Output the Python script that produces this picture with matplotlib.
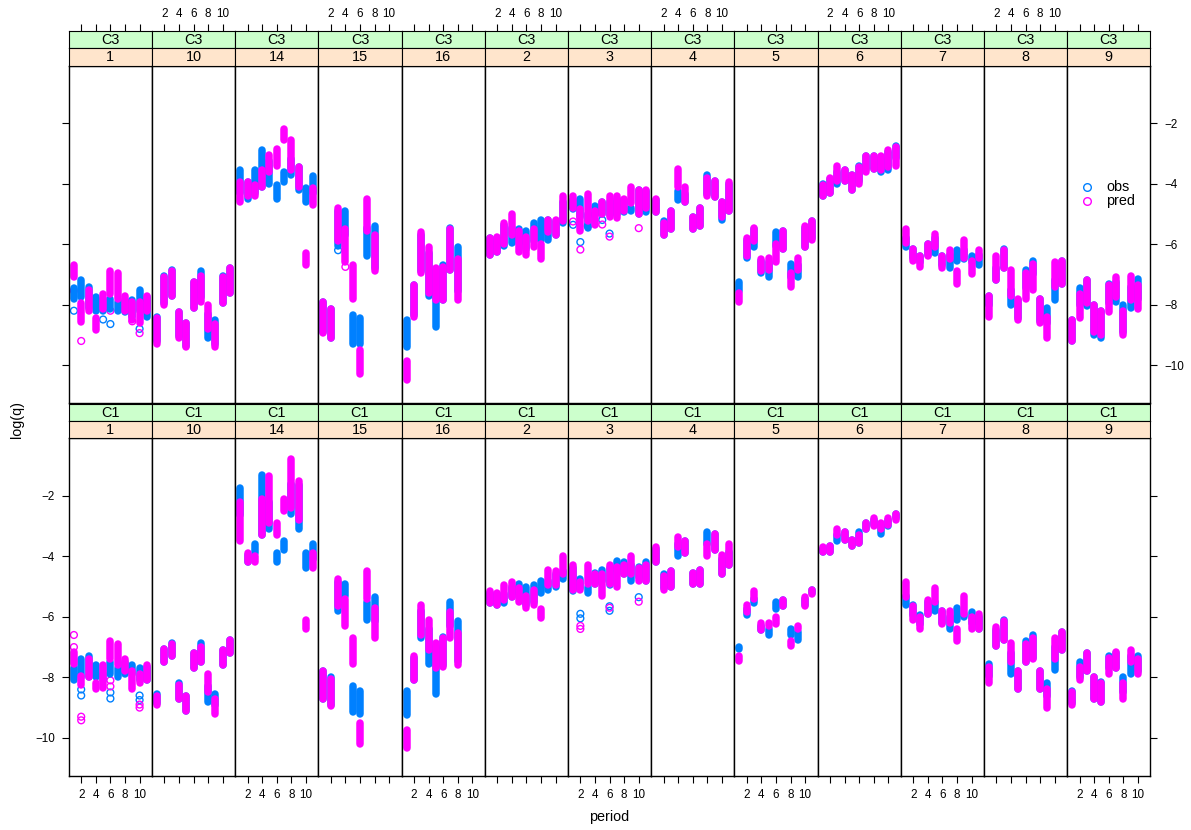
import matplotlib
matplotlib.use("Agg")
import matplotlib.pyplot as plt
from matplotlib.lines import Line2D
import numpy as np

plt.rcParams['font.family'] = ['Liberation Sans', 'DejaVu Sans']

# panel order (strip text) and groups (outer strip)
sites = ["1", "10", "14", "15", "16", "2", "3", "4", "5", "6", "7", "8", "9"]
groups = ["C3", "C1"]

# each entry: (top, bottom) of the cluster of log(q) values for period 1, 2, ...
c3_obs = {
    "1": [(-7.45, -7.8), (-7.2, -7.75), (-7.4, -8.1), (-7.75, -8.2), (-7.8, -8.2), (-7.8, -8.15),
          (-7.9, -8.2), (-7.85, -8.25), (-7.85, -8.4), (-7.5, -8.2), (-7.75, -8.4)],
    "10": [(-8.4, -9.2), (-7.05, -7.95), (-6.85, -7.7), (-8.25, -9.05), (-8.6, -9.35), (-7.25, -8.1),
           (-6.9, -7.75), (-8.3, -9.1), (-8.5, -9.3), (-7.05, -7.95), (-6.8, -7.6)],
    "14": [(-3.55, -4.3), (-3.95, -4.5), (-3.55, -4.3), (-2.9, -4.1), (-3.25, -4.0), (-4.05, -4.5),
           (-3.6, -3.95), (-3.2, -3.7), (-3.45, -4.2), (-4.15, -4.6), (-3.75, -4.3)],
    "15": [(-7.9, -8.9), (-8.15, -9.1), (-4.9, -6.05), (-4.9, -5.7), (-8.35, -9.3), (-8.45, -9.3),
           (-5.45, -6.4), (-5.4, -6.8)],
    "16": [(-8.5, -9.4), (-7.35, -8.35), (-5.7, -6.9), (-6.3, -7.7), (-6.9, -8.75), (-6.7, -7.85),
           (-5.45, -6.85), (-6.1, -7.55)],
    "2": [(-5.8, -6.35), (-5.8, -6.25), (-5.35, -6.05), (-5.45, -5.95), (-5.5, -5.95), (-5.55, -6.15),
          (-5.3, -5.9), (-5.2, -5.85), (-5.2, -5.85), (-5.25, -5.7), (-4.6, -5.3)],
    "3": [(-4.55, -4.85), (-4.5, -5.1), (-5.0, -5.45), (-4.75, -5.05), (-4.6, -5.0), (-4.6, -5.05),
          (-4.5, -5.0), (-4.55, -4.95), (-4.8, -4.9), (-4.2, -5.0), (-4.25, -4.95)],
    "4": [(-4.55, -4.95), (-5.25, -5.7), (-4.9, -5.5), (-4.25, -4.55), (-4.35, -4.6), (-5.1, -5.5),
          (-4.8, -5.4), (-3.7, -4.35), (-3.9, -4.45), (-4.6, -5.2), (-4.0, -4.9)],
    "5": [(-7.25, -7.55), (-5.85, -6.45), (-5.5, -6.1), (-6.55, -6.95), (-6.6, -7.1), (-5.6, -6.05),
          (-5.55, -6.15), (-6.65, -7.1), (-6.7, -7.1), (-5.45, -6.1), (-5.25, -5.8)],
    "6": [(-4.0, -4.4), (-3.85, -4.3), (-3.6, -4.0), (-3.55, -3.9), (-3.7, -4.2), (-3.4, -3.9),
          (-3.1, -3.5), (-3.1, -3.5), (-3.2, -3.6), (-2.95, -3.55), (-2.75, -3.15)],
    "7": [(-5.8, -6.1), (-6.15, -6.45), (-6.4, -6.6), (-6.0, -6.35), (-5.8, -6.3), (-6.4, -6.7),
          (-6.35, -6.8), (-6.2, -6.55), (-6.2, -6.5), (-6.4, -6.6), (-6.35, -6.7)],
    "8": [(-7.7, -8.0), (-6.8, -7.2), (-6.15, -6.8), (-7.5, -8.0), (-7.85, -8.45), (-6.85, -7.45),
          (-6.55, -7.0), (-7.8, -8.55), (-8.1, -8.6), (-7.2, -7.85), (-6.55, -7.3)],
    "9": [(-8.5, -9.2), (-7.45, -8.0), (-7.2, -8.05), (-8.0, -9.0), (-8.2, -9.1), (-7.3, -7.95),
          (-7.25, -7.9), (-8.0, -8.9), (-7.4, -8.1), (-7.15, -7.8)],
}
c3_pred = {
    "1": [(-6.7, -7.1), (-7.93, -8.57), (-7.5, -8.2), (-8.45, -8.85), (-7.65, -8.15), (-6.9, -7.65),
          (-6.95, -7.8), (-7.7, -8.2), (-7.9, -8.5), (-7.9, -8.6), (-7.7, -8.2)],
    "10": [(-8.45, -9.3), (-7.1, -8.0), (-6.9, -7.7), (-8.25, -9.1), (-8.6, -9.4), (-7.25, -8.1),
           (-7.05, -7.9), (-8.0, -8.8), (-8.65, -9.4), (-7.1, -7.95), (-6.8, -7.6)],
    "14": [(-3.95, -4.6), (-3.95, -4.4), (-4.05, -4.4), (-3.55, -4.1), (-3.05, -3.6), (-2.85, -3.4),
           (-2.2, -2.55), (-2.55, -3.55), (-3.45, -4.1), (-6.3, -6.7), (-4.15, -4.7)],
    "15": [(-7.9, -8.95), (-8.15, -9.1), (-4.8, -5.9), (-5.5, -6.6), (-6.7, -7.8), (-9.5, -10.3),
           (-4.5, -5.55), (-5.7, -6.9)],
    "16": [(-9.85, -10.5), (-7.35, -8.4), (-5.6, -6.95), (-6.1, -7.6), (-6.8, -7.85), (-6.75, -7.85),
           (-5.5, -6.85), (-6.5, -7.85)],
    "2": [(-5.8, -6.35), (-5.75, -6.25), (-5.3, -6.0), (-5.0, -5.7), (-5.55, -6.25), (-5.75, -6.35),
          (-5.5, -6.1), (-6.0, -6.5), (-5.2, -5.6), (-5.2, -5.7), (-4.4, -5.25)],
    "3": [(-4.4, -4.8), (-4.85, -5.55), (-4.35, -5.25), (-4.9, -5.35), (-4.6, -5.0), (-4.4, -5.1),
          (-4.4, -5.15), (-4.5, -4.9), (-4.1, -4.65), (-4.2, -5.0), (-4.2, -4.8)],
    "4": [(-4.5, -4.95), (-5.3, -5.7), (-4.9, -5.5), (-3.5, -4.1), (-4.1, -4.6), (-5.1, -5.5),
          (-4.8, -5.4), (-3.8, -4.4), (-3.9, -4.45), (-4.6, -5.1), (-3.95, -4.9)],
    "5": [(-7.6, -7.9), (-5.8, -6.4), (-5.45, -5.9), (-6.5, -6.9), (-6.45, -6.85), (-6.0, -6.6),
          (-5.55, -6.15), (-6.95, -7.4), (-6.45, -6.85), (-5.4, -6.1), (-5.25, -5.85)],
    "6": [(-4.05, -4.4), (-3.8, -4.3), (-3.4, -3.9), (-3.55, -3.9), (-3.7, -4.2), (-3.45, -4.0),
          (-3.1, -3.6), (-3.1, -3.5), (-3.1, -3.55), (-2.9, -3.45), (-2.8, -3.4)],
    "7": [(-5.5, -5.95), (-6.15, -6.55), (-6.4, -6.75), (-6.0, -6.4), (-5.65, -6.1), (-6.4, -6.8),
          (-6.2, -6.5), (-6.9, -7.3), (-5.85, -6.45), (-6.55, -7.0), (-6.2, -6.45)],
    "8": [(-7.7, -8.4), (-6.4, -7.2), (-6.2, -6.8), (-6.85, -7.7), (-7.8, -8.5), (-6.95, -7.8),
          (-6.65, -7.5), (-7.8, -8.6), (-8.4, -9.1), (-6.6, -7.4), (-6.55, -7.3)],
    "9": [(-8.5, -9.2), (-7.65, -8.45), (-7.2, -7.95), (-8.0, -8.9), (-8.2, -9.0), (-7.35, -8.25),
          (-7.1, -7.75), (-8.2, -9.0), (-7.05, -7.85), (-7.35, -8.15)],
}
c1_obs = {
    "1": [(-7.7, -8.1), (-7.4, -8.0), (-7.3, -8.0), (-7.6, -8.0), (-7.9, -8.1), (-7.5, -7.9),
          (-7.7, -8.0), (-7.5, -7.9), (-7.6, -7.9), (-7.7, -8.1), (-7.65, -8.1)],
    "10": [(-8.55, -8.85), (-7.05, -7.5), (-6.85, -7.3), (-8.2, -8.7), (-8.6, -9.1), (-7.2, -7.7),
           (-6.85, -7.5), (-8.3, -8.8), (-8.55, -8.9), (-7.1, -7.6), (-6.75, -7.2)],
    "14": [(-1.75, -2.65), (-3.95, -4.2), (-3.6, -3.9), (-1.3, -3.3), (-2.2, -3.1), (-3.9, -4.2),
           (-3.5, -3.8), (-1.6, -2.6), (-1.65, -3.1), (-3.9, -4.4), (-3.6, -4.1)],
    "15": [(-7.8, -8.7), (-8.0, -8.9), (-4.85, -5.8), (-4.9, -5.3), (-8.3, -9.15), (-8.45, -9.2),
           (-5.5, -6.1), (-5.35, -6.15)],
    "16": [(-8.45, -9.25), (-7.35, -8.1), (-5.8, -6.7), (-6.4, -7.55), (-7.0, -8.55), (-6.65, -7.6),
           (-5.5, -6.3), (-6.15, -7.45)],
    "2": [(-5.2, -5.55), (-5.25, -5.6), (-5.25, -5.55), (-5.0, -5.35), (-4.9, -5.2), (-5.0, -5.6),
          (-4.95, -5.5), (-4.8, -5.2), (-4.8, -5.1), (-4.6, -5.0), (-4.5, -4.75)],
    "3": [(-4.4, -5.15), (-4.75, -5.05), (-5.0, -5.2), (-4.55, -4.9), (-4.45, -4.8), (-4.4, -4.95),
          (-4.15, -4.45), (-4.2, -4.6), (-4.3, -4.8), (-4.35, -4.7), (-4.2, -4.8)],
    "4": [(-3.75, -4.2), (-4.6, -5.05), (-4.5, -5.0), (-3.6, -4.0), (-3.5, -3.9), (-4.55, -4.9),
          (-4.45, -4.9), (-3.2, -3.6), (-3.25, -3.8), (-4.1, -4.6), (-3.85, -4.3)],
    "5": [(-7.0, -7.05), (-5.75, -5.95), (-5.4, -5.55), (-6.3, -6.45), (-6.4, -6.6), (-5.5, -5.75),
          (-5.45, -5.65), (-6.4, -6.6), (-6.5, -6.75), (-5.4, -5.6), (-5.1, -5.2)],
    "6": [(-3.75, -3.85), (-3.65, -3.85), (-3.3, -3.5), (-3.2, -3.45), (-3.45, -3.65), (-3.2, -3.55),
          (-2.9, -3.1), (-2.8, -2.95), (-3.0, -3.25), (-2.8, -3.0), (-2.6, -2.75)],
    "7": [(-5.3, -5.6), (-5.6, -5.95), (-5.95, -6.25), (-5.5, -5.9), (-5.5, -5.8), (-5.8, -6.2),
          (-6.0, -6.4), (-5.7, -6.1), (-5.9, -6.0), (-5.85, -6.2), (-6.0, -6.4)],
    "8": [(-7.55, -7.95), (-6.45, -6.95), (-6.1, -6.75), (-7.2, -7.9), (-7.8, -8.4), (-6.8, -7.5),
          (-6.6, -7.35), (-7.8, -8.4), (-8.2, -8.6), (-7.0, -7.75), (-6.5, -7.1)],
    "9": [(-8.45, -8.85), (-7.5, -8.0), (-7.2, -7.8), (-8.0, -8.7), (-8.15, -8.8), (-7.3, -7.7),
          (-7.2, -7.7), (-8.0, -8.5), (-7.3, -7.9), (-7.3, -7.8)],
}
c1_pred = {
    "1": [(-7.15, -7.55), (-7.95, -8.25), (-7.4, -8.0), (-8.2, -8.4), (-7.6, -8.35), (-6.8, -7.4),
          (-6.9, -7.6), (-7.4, -7.8), (-7.8, -8.4), (-7.9, -8.2), (-7.6, -8.1)],
    "10": [(-8.6, -8.9), (-7.05, -7.5), (-6.9, -7.3), (-8.25, -8.7), (-8.6, -9.1), (-7.2, -7.7),
           (-7.0, -7.5), (-7.9, -8.5), (-8.7, -9.2), (-7.1, -7.6), (-6.75, -7.2)],
    "14": [(-2.2, -3.5), (-3.9, -4.2), (-4.0, -4.2), (-2.1, -3.3), (-1.35, -2.9), (-2.9, -3.3),
           (-2.1, -2.5), (-0.8, -2.4), (-1.5, -2.8), (-6.1, -6.4), (-3.9, -4.4)],
    "15": [(-7.8, -8.7), (-8.05, -8.95), (-4.75, -5.65), (-5.4, -6.3), (-6.7, -7.55), (-9.5, -10.2),
           (-4.5, -5.4), (-5.7, -6.7)],
    "16": [(-9.75, -10.35), (-7.3, -8.1), (-5.6, -6.6), (-6.1, -7.1), (-6.85, -7.7), (-6.7, -7.65),
           (-5.85, -6.7), (-6.55, -7.6)],
    "2": [(-5.15, -5.55), (-5.2, -5.6), (-4.95, -5.45), (-4.85, -5.35), (-5.05, -5.5), (-5.3, -5.7),
          (-5.1, -5.6), (-5.75, -6.05), (-4.45, -4.95), (-4.5, -4.95), (-4.0, -4.6)],
    "3": [(-4.3, -5.1), (-4.85, -5.1), (-4.3, -4.9), (-4.6, -4.9), (-4.6, -5.3), (-4.3, -4.9),
          (-4.35, -5.0), (-4.3, -4.6), (-4.0, -4.6), (-4.4, -4.8), (-4.3, -4.8)],
    "4": [(-3.7, -4.2), (-4.65, -5.1), (-4.5, -5.0), (-3.35, -3.7), (-3.5, -3.9), (-4.55, -4.9),
          (-4.45, -4.9), (-3.6, -4.0), (-3.25, -3.8), (-3.95, -4.6), (-3.6, -4.3)],
    "5": [(-7.3, -7.45), (-5.6, -5.85), (-5.15, -5.4), (-6.2, -6.45), (-6.2, -6.3), (-6.0, -6.25),
          (-5.45, -5.65), (-6.8, -6.95), (-6.3, -6.4), (-5.35, -5.65), (-5.1, -5.25)],
    "6": [(-3.7, -3.85), (-3.65, -3.85), (-3.1, -3.3), (-3.2, -3.45), (-3.45, -3.65), (-3.3, -3.55),
          (-2.9, -3.1), (-2.75, -3.0), (-2.9, -3.1), (-2.75, -2.95), (-2.6, -2.8)],
    "7": [(-4.85, -5.35), (-5.65, -6.1), (-6.0, -6.4), (-5.45, -5.9), (-5.05, -5.5), (-5.8, -6.25),
          (-5.8, -6.2), (-6.4, -6.8), (-5.3, -5.9), (-6.0, -6.4), (-5.9, -6.4)],
    "8": [(-7.65, -8.2), (-6.35, -6.95), (-6.15, -6.75), (-6.85, -7.5), (-7.8, -8.4), (-6.9, -7.5),
          (-6.7, -7.4), (-7.8, -8.4), (-8.4, -9.0), (-6.7, -7.4), (-6.5, -7.1)],
    "9": [(-8.5, -8.9), (-7.65, -8.1), (-7.2, -7.8), (-8.0, -8.7), (-8.2, -8.8), (-7.35, -7.9),
          (-7.15, -7.7), (-8.2, -8.7), (-7.1, -7.5), (-7.4, -7.9)],
}

# isolated points: (period, log(q))
c3_obs_extra = {"1": [(1, -8.2), (5, -8.49), (6, -8.64), (10, -8.8)],
                "3": [(1, -5.36), (2, -5.93), (3, -5.4), (5, -5.2), (6, -5.65)],
                "15": [(3, -6.2)]}
c3_pred_extra = {"1": [(1, -7.54), (2, -9.2), (6, -8.2), (9, -8.55), (10, -8.94)],
                 "3": [(1, -5.25), (2, -6.18), (5, -5.35), (6, -5.75), (10, -5.47)],
                 "15": [(4, -6.75)]}
c1_obs_extra = {"1": [(2, -8.4), (2, -8.6), (6, -8.5), (6, -8.7), (10, -8.6), (10, -8.75)],
                "3": [(2, -5.9), (2, -6.05), (6, -5.65), (6, -5.8), (10, -5.35)]}
c1_pred_extra = {"1": [(1, -6.6), (1, -7.0), (2, -9.3), (2, -9.42), (6, -8.1), (6, -8.3),
                       (10, -8.9), (10, -9.0)],
                 "3": [(2, -6.3), (2, -6.4), (6, -5.7), (10, -5.5)]}

data = {"C3": (c3_obs, c3_pred, c3_obs_extra, c3_pred_extra),
        "C1": (c1_obs, c1_pred, c1_obs_extra, c1_pred_extra)}

obs_col = "#0080ff"
pred_col = "#ff00ff"
strip_outer = "#ccffcc"
strip_inner = "#ffe5cc"

W, H = 1191, 830
fig = plt.figure(figsize=(W / 100, H / 100), dpi=100)

x_left, x_right = 68.8, 1150.3
pw = (x_right - x_left) / len(sites)
# panel top, panel bottom, strip top (pixels)
rows = {"C3": (65.7, 403.3, 31.0), "C1": (438.3, 776.0, 404.0)}
xlim = (0.3, 11.7)
xt = [2, 4, 6, 8, 10]


def fx(px):
    return px / W


def fy(py):
    return 1 - py / H


def draw(ax, ranges, extra, color):
    per = np.arange(1, len(ranges) + 1)
    top = [r[0] for r in ranges]
    bot = [r[1] for r in ranges]
    ax.vlines(per, bot, top, colors=color, linewidth=5.4, capstyle='round')
    if extra:
        ax.scatter([e[0] for e in extra], [e[1] for e in extra], s=24,
                   facecolors='none', edgecolors=color, linewidths=1.0)


for r, g in enumerate(groups):
    ptop, pbot, stop = rows[g]
    obs, pred, obs_x, pred_x = data[g]
    sh = (ptop - stop) / 2
    for i, s in enumerate(sites):
        x0 = x_left + i * pw
        ax = fig.add_axes([fx(x0), fy(pbot), pw / W, (pbot - ptop) / H])
        draw(ax, obs[s], obs_x.get(s), obs_col)
        draw(ax, pred[s], pred_x.get(s), pred_col)
        ax.set_xlim(*xlim)
        ax.set_ylim(-11.26, -0.10)
        for sp in ax.spines.values():
            sp.set_linewidth(1.0)
        ax.set_xticks(xt)
        ax.set_yticks([-10, -8, -6, -4, -2])
        if g == "C3":
            ax.tick_params(axis='x', top=False, bottom=False, labeltop=False, labelbottom=False)
        else:
            ax.tick_params(axis='x', top=False, bottom=True, labeltop=False,
                           labelbottom=(i % 2 == 0), direction='out', length=5, width=0.8,
                           labelsize=8.4, pad=4)
        ax.tick_params(axis='y', left=False, right=False, labelleft=False, labelright=False,
                       direction='out', length=5, width=0.8, labelsize=8.4, pad=5)
        if i == 0:
            ax.tick_params(axis='y', left=True, labelleft=(g == "C1"))
        if i == len(sites) - 1:
            ax.tick_params(axis='y', right=True, labelright=(g == "C3"))

        # strips: outer = group, inner = site
        for k, (txt, col) in enumerate([(g, strip_outer), (s, strip_inner)]):
            sa = fig.add_axes([fx(x0), fy(stop + (k + 1) * sh), pw / W, sh / H])
            sa.set_facecolor(col)
            sa.set_xlim(*xlim)
            sa.set_yticks([])
            if g == "C3" and k == 0:
                # top axis of the upper row sits above the strips
                sa.set_xticks(xt)
                sa.tick_params(axis='x', top=True, bottom=False, labeltop=(i % 2 == 1),
                               labelbottom=False, direction='out', length=5, width=0.8,
                               labelsize=8.4, pad=3)
            else:
                sa.set_xticks([])
            for sp in sa.spines.values():
                sp.set_linewidth(0.8)
            sa.text(0.5, 0.5, txt, ha='center', va='center', fontsize=10.4,
                    transform=sa.transAxes)

# key
for j, (lab, col) in enumerate([("obs", obs_col), ("pred", pred_col)]):
    yk = 187 + j * 14.5
    fig.add_artist(Line2D([fx(1087)], [fy(yk)], marker='o', markersize=5.5,
                          markerfacecolor='none', markeredgecolor=col, markeredgewidth=1.0,
                          linestyle='none', transform=fig.transFigure))
    fig.text(fx(1106), fy(yk), lab, ha='left', va='center', fontsize=10.4)

fig.text(fx(17), fy(420), "log(q)", rotation=90, ha='center', va='center', fontsize=10.4)
fig.text(fx(609), fy(817), "period", ha='center', va='center', fontsize=10.4)

fig.savefig("out.png", dpi=100)
